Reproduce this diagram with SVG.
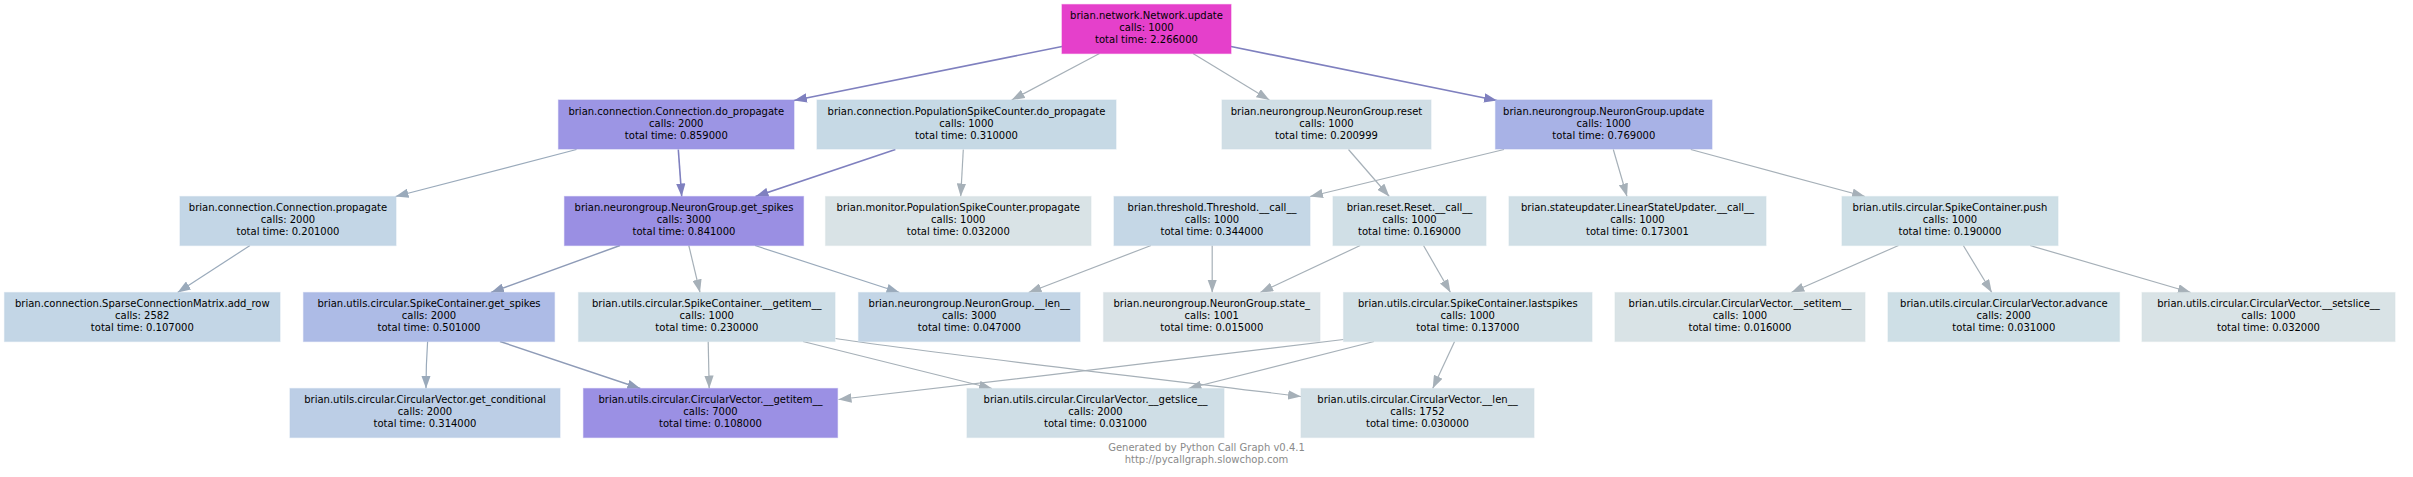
<svg xmlns="http://www.w3.org/2000/svg" width="2413" height="477" viewBox="0 0 2413 477">
<style>
.n rect { stroke-width: 1.2; stroke-opacity: 0.5; }
.n text { font-family: "DejaVu Sans", Verdana, sans-serif; font-size: 10px; text-anchor: middle; fill: #000; }
.e path { fill: none; stroke-width: 1.2; }
.e .p { stroke: #7f80bf; stroke-width: 1.6; marker-end: url(#ap); }
.e .s { stroke: #8e9bb7; stroke-width: 1.4; marker-end: url(#as); }
.e .b { stroke: #9aaabb; marker-end: url(#ab); }
.e .g { stroke: #a6b0b8; marker-end: url(#ag); }
.foot { font-family: "DejaVu Sans", Verdana, sans-serif; font-size: 10px; text-anchor: middle; fill: #8a8a8a; }
</style>
<defs>
<marker id="ap" markerUnits="userSpaceOnUse" viewBox="0 0 13 9.4" markerWidth="13" markerHeight="9.4" refX="13" refY="4.7" orient="auto"><path d="M0,0 L13,4.7 L0,9.4 Z" fill="#7f80bf"/></marker>
<marker id="as" markerUnits="userSpaceOnUse" viewBox="0 0 13 9.4" markerWidth="13" markerHeight="9.4" refX="13" refY="4.7" orient="auto"><path d="M0,0 L13,4.7 L0,9.4 Z" fill="#8e9bb7"/></marker>
<marker id="ab" markerUnits="userSpaceOnUse" viewBox="0 0 13 9.4" markerWidth="13" markerHeight="9.4" refX="13" refY="4.7" orient="auto"><path d="M0,0 L13,4.7 L0,9.4 Z" fill="#9aaabb"/></marker>
<marker id="ag" markerUnits="userSpaceOnUse" viewBox="0 0 13 9.4" markerWidth="13" markerHeight="9.4" refX="13" refY="4.7" orient="auto"><path d="M0,0 L13,4.7 L0,9.4 Z" fill="#a6b0b8"/></marker>
</defs>
<rect x="0" y="0" width="2413" height="477" fill="#ffffff"/>

<g id="edges" class="e">
<path class="p" d="M1062,46.5 L794,100.5"/>
<path class="g" d="M1099.5,53.5 L1011.7,100"/>
<path class="g" d="M1193,53.5 L1269.4,100"/>
<path class="p" d="M1231,46.5 L1497,100.5"/>
<path class="b" d="M576.5,149.5 L395.5,196.5"/>
<path class="p" d="M678.3,149.5 L681.7,196.5"/>
<path class="p" d="M895.4,149.5 L755.5,196.5"/>
<path class="g" d="M963.3,149.5 L960.7,196.5"/>
<path class="g" d="M1348.5,149.5 L1389.3,196.5"/>
<path class="g" d="M1504,149.5 L1310,196.5"/>
<path class="g" d="M1613.3,149.5 L1627,196.5"/>
<path class="g" d="M1690.8,149.5 L1865,196.5"/>
<path class="b" d="M250,245.5 L177.6,292.5"/>
<path class="s" d="M620,245.5 L491,292.5"/>
<path class="g" d="M688.8,245.5 L700,292.5"/>
<path class="b" d="M755,245.5 L899.5,292.5"/>
<path class="g" d="M1151,245.5 L1028.6,292.5"/>
<path class="g" d="M1212.2,245.5 L1212.2,292.5"/>
<path class="g" d="M1360.2,245.5 L1260.2,292.5"/>
<path class="g" d="M1423.5,245.5 L1450.5,292.5"/>
<path class="g" d="M1898.5,245.5 L1791.3,292.5"/>
<path class="g" d="M1963.3,245.5 L1991.8,292.5"/>
<path class="g" d="M2030.1,245.5 L2190.8,292.5"/>
<path class="b" d="M427.6,341.5 C426.6,356 426,372 426,388.5"/>
<path class="s" d="M500,341.5 L640.3,388.5"/>
<path class="g" d="M708.2,341.5 L709.2,388.5"/>
<path class="g" d="M803,341.5 L992,388.5"/>
<path class="g" d="M835.5,338.5 C900,349 1100,372 1301,396.5"/>
<path class="g" d="M1343.5,339.5 C1200,357 1000,381 838.5,399.5"/>
<path class="g" d="M1374,341.5 L1188.4,388.5"/>
<path class="g" d="M1454.6,341.5 L1432.7,388.5"/>
</g>

<g id="n0" class="n"><rect x="1062" y="4.5" width="169" height="49" fill="#e540cb" stroke="#e540cb"/><text x="1146.5" y="19">brian.network.Network.update</text><text x="1146.5" y="31">calls: 1000</text><text x="1146.5" y="43">total time: 2.266000</text></g>

<g id="n1" class="n"><rect x="558.5" y="100" width="235.5" height="49" fill="#9c95e4" stroke="#9c95e4"/><text x="676.3" y="114.5">brian.connection.Connection.do_propagate</text><text x="676.3" y="126.5">calls: 2000</text><text x="676.3" y="138.5">total time: 0.859000</text></g>
<g id="n2" class="n"><rect x="817" y="100" width="299" height="49" fill="#c6d9e5" stroke="#c6d9e5"/><text x="966.5" y="114.5">brian.connection.PopulationSpikeCounter.do_propagate</text><text x="966.5" y="126.5">calls: 1000</text><text x="966.5" y="138.5">total time: 0.310000</text></g>
<g id="n3" class="n"><rect x="1222" y="100" width="209" height="49" fill="#d0dee5" stroke="#d0dee5"/><text x="1326.5" y="114.5">brian.neurongroup.NeuronGroup.reset</text><text x="1326.5" y="126.5">calls: 1000</text><text x="1326.5" y="138.5">total time: 0.200999</text></g>
<g id="n4" class="n"><rect x="1495.5" y="100" width="216.5" height="49" fill="#a8b2e6" stroke="#a8b2e6"/><text x="1603.8" y="114.5">brian.neurongroup.NeuronGroup.update</text><text x="1603.8" y="126.5">calls: 1000</text><text x="1603.8" y="138.5">total time: 0.769000</text></g>

<g id="n5" class="n"><rect x="180" y="196.5" width="216" height="49" fill="#c3d6e6" stroke="#c3d6e6"/><text x="288" y="211">brian.connection.Connection.propagate</text><text x="288" y="223">calls: 2000</text><text x="288" y="235">total time: 0.201000</text></g>
<g id="n6" class="n"><rect x="564.5" y="196.5" width="239" height="49" fill="#9a8fe3" stroke="#9a8fe3"/><text x="684" y="211">brian.neurongroup.NeuronGroup.get_spikes</text><text x="684" y="223">calls: 3000</text><text x="684" y="235">total time: 0.841000</text></g>
<g id="n7" class="n"><rect x="825.5" y="196.5" width="265.5" height="49" fill="#d9e3e6" stroke="#d9e3e6"/><text x="958.3" y="211">brian.monitor.PopulationSpikeCounter.propagate</text><text x="958.3" y="223">calls: 1000</text><text x="958.3" y="235">total time: 0.032000</text></g>
<g id="n8" class="n"><rect x="1114" y="196.5" width="196" height="49" fill="#c5d7e6" stroke="#c5d7e6"/><text x="1212" y="211">brian.threshold.Threshold.__call__</text><text x="1212" y="223">calls: 1000</text><text x="1212" y="235">total time: 0.344000</text></g>
<g id="n9" class="n"><rect x="1333" y="196.5" width="153" height="49" fill="#d0dfe6" stroke="#d0dfe6"/><text x="1409.5" y="211">brian.reset.Reset.__call__</text><text x="1409.5" y="223">calls: 1000</text><text x="1409.5" y="235">total time: 0.169000</text></g>
<g id="n10" class="n"><rect x="1509" y="196.5" width="257" height="49" fill="#d0dfe6" stroke="#d0dfe6"/><text x="1637.5" y="211">brian.stateupdater.LinearStateUpdater.__call__</text><text x="1637.5" y="223">calls: 1000</text><text x="1637.5" y="235">total time: 0.173001</text></g>
<g id="n11" class="n"><rect x="1842" y="196.5" width="216" height="49" fill="#cedfe6" stroke="#cedfe6"/><text x="1950" y="211">brian.utils.circular.SpikeContainer.push</text><text x="1950" y="223">calls: 1000</text><text x="1950" y="235">total time: 0.190000</text></g>

<g id="n12" class="n"><rect x="4.5" y="292.5" width="275.5" height="49" fill="#c3d6e6" stroke="#c3d6e6"/><text x="142.3" y="307">brian.connection.SparseConnectionMatrix.add_row</text><text x="142.3" y="319">calls: 2582</text><text x="142.3" y="331">total time: 0.107000</text></g>
<g id="n13" class="n"><rect x="303.5" y="292.5" width="251" height="49" fill="#adbbe6" stroke="#adbbe6"/><text x="429" y="307">brian.utils.circular.SpikeContainer.get_spikes</text><text x="429" y="319">calls: 2000</text><text x="429" y="331">total time: 0.501000</text></g>
<g id="n14" class="n"><rect x="578.5" y="292.5" width="256.5" height="49" fill="#cddde6" stroke="#cddde6"/><text x="706.8" y="307">brian.utils.circular.SpikeContainer.__getitem__</text><text x="706.8" y="319">calls: 1000</text><text x="706.8" y="331">total time: 0.230000</text></g>
<g id="n15" class="n"><rect x="858.5" y="292.5" width="221.5" height="49" fill="#c3d5e6" stroke="#c3d5e6"/><text x="969.3" y="307">brian.neurongroup.NeuronGroup.__len__</text><text x="969.3" y="319">calls: 3000</text><text x="969.3" y="331">total time: 0.047000</text></g>
<g id="n16" class="n"><rect x="1103.5" y="292.5" width="216.5" height="49" fill="#d9e2e6" stroke="#d9e2e6"/><text x="1211.8" y="307">brian.neurongroup.NeuronGroup.state_</text><text x="1211.8" y="319">calls: 1001</text><text x="1211.8" y="331">total time: 0.015000</text></g>
<g id="n17" class="n"><rect x="1343.5" y="292.5" width="248.5" height="49" fill="#d2e0e6" stroke="#d2e0e6"/><text x="1467.8" y="307">brian.utils.circular.SpikeContainer.lastspikes</text><text x="1467.8" y="319">calls: 1000</text><text x="1467.8" y="331">total time: 0.137000</text></g>
<g id="n18" class="n"><rect x="1615" y="292.5" width="250" height="49" fill="#d9e3e6" stroke="#d9e3e6"/><text x="1740" y="307">brian.utils.circular.CircularVector.__setitem__</text><text x="1740" y="319">calls: 1000</text><text x="1740" y="331">total time: 0.016000</text></g>
<g id="n19" class="n"><rect x="1888" y="292.5" width="231.5" height="49" fill="#cedfe6" stroke="#cedfe6"/><text x="2003.8" y="307">brian.utils.circular.CircularVector.advance</text><text x="2003.8" y="319">calls: 2000</text><text x="2003.8" y="331">total time: 0.031000</text></g>
<g id="n20" class="n"><rect x="2142" y="292.5" width="253" height="49" fill="#d9e3e6" stroke="#d9e3e6"/><text x="2268.5" y="307">brian.utils.circular.CircularVector.__setslice__</text><text x="2268.5" y="319">calls: 1000</text><text x="2268.5" y="331">total time: 0.032000</text></g>

<g id="n21" class="n"><rect x="290" y="388.5" width="270" height="49" fill="#bccee6" stroke="#bccee6"/><text x="425" y="403">brian.utils.circular.CircularVector.get_conditional</text><text x="425" y="415">calls: 2000</text><text x="425" y="427">total time: 0.314000</text></g>
<g id="n22" class="n"><rect x="583.5" y="388.5" width="254" height="49" fill="#9b90e4" stroke="#9b90e4"/><text x="710.5" y="403">brian.utils.circular.CircularVector.__getitem__</text><text x="710.5" y="415">calls: 7000</text><text x="710.5" y="427">total time: 0.108000</text></g>
<g id="n23" class="n"><rect x="967" y="388.5" width="257" height="49" fill="#cfdee6" stroke="#cfdee6"/><text x="1095.5" y="403">brian.utils.circular.CircularVector.__getslice__</text><text x="1095.5" y="415">calls: 2000</text><text x="1095.5" y="427">total time: 0.031000</text></g>
<g id="n24" class="n"><rect x="1301" y="388.5" width="233" height="49" fill="#d3e0e6" stroke="#d3e0e6"/><text x="1417.5" y="403">brian.utils.circular.CircularVector.__len__</text><text x="1417.5" y="415">calls: 1752</text><text x="1417.5" y="427">total time: 0.030000</text></g>

<g id="footer">
<text class="foot" x="1206.5" y="451">Generated by Python Call Graph v0.4.1</text>
<text class="foot" x="1206.5" y="463">http://pycallgraph.slowchop.com</text>
</g>
</svg>
